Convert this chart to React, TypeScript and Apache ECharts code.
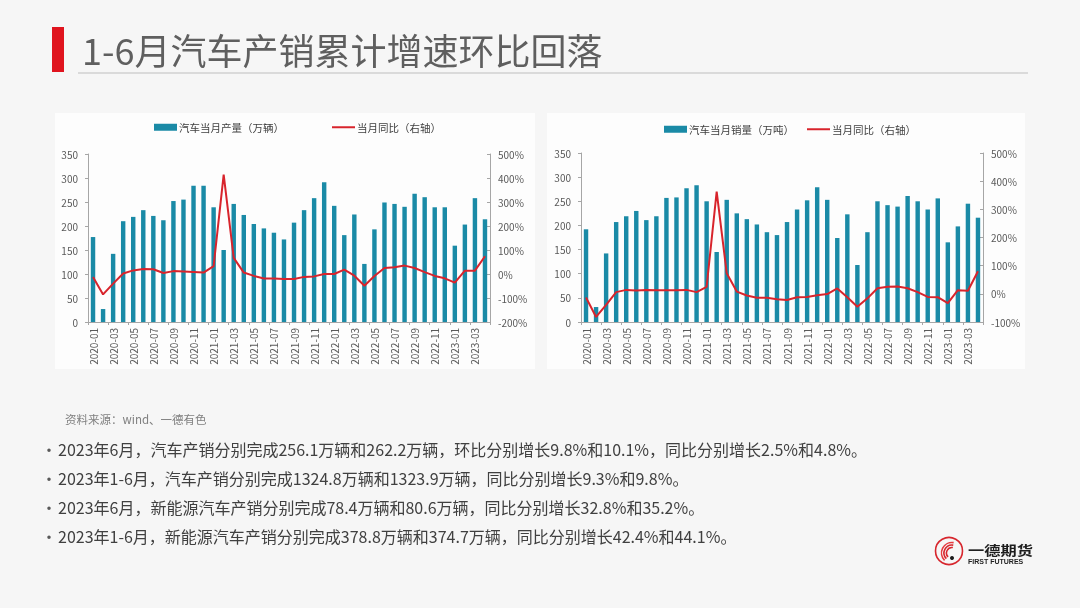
import React, { useEffect, useRef } from "react";
import * as echarts from "echarts";

// Months 2020-01 … 2023-04
const months: string[] = [
  "2020-01", "2020-02", "2020-03", "2020-04", "2020-05", "2020-06", "2020-07", "2020-08", "2020-09", "2020-10", "2020-11", "2020-12",
  "2021-01", "2021-02", "2021-03", "2021-04", "2021-05", "2021-06", "2021-07", "2021-08", "2021-09", "2021-10", "2021-11", "2021-12",
  "2022-01", "2022-02", "2022-03", "2022-04", "2022-05", "2022-06", "2022-07", "2022-08", "2022-09", "2022-10", "2022-11", "2022-12",
  "2023-01", "2023-02", "2023-03", "2023-04",
];

// Monthly vehicle output (10k units)
const production: number[] = [
  177, 27, 142, 210, 219, 233, 221, 212, 252, 255, 284, 284,
  239, 150, 246, 223, 204, 195, 186, 172, 207, 233, 258, 291,
  242, 181, 224, 121, 193, 249, 246, 240, 267, 260, 239, 239,
  159, 203, 258, 214,
];

// Year-on-year change of output (%)
const productionYoY: number[] = [
  -12, -85, -40, 2, 15, 21, 20, 4, 12, 10, 8, 6,
  33, 414, 67, 6, -8, -19, -19, -21, -21, -12, -10, 0,
  0, 18, -7, -49, -8, 25, 28, 35, 25, 8, -8, -18,
  -36, 14, 14, 74,
];

// Monthly vehicle sales
const sales: number[] = [
  192, 31, 142, 207, 219, 230, 211, 219, 257, 258, 277, 283,
  250, 145, 253, 225, 213, 202, 186, 180, 207, 233, 252, 279,
  253, 174, 223, 118, 186, 250, 242, 239, 261, 250, 233, 256,
  165, 198, 245, 216,
];

// Year-on-year change of sales (%)
const salesYoY: number[] = [
  -13, -82, -39, 6, 14, 12, 14, 13, 13, 13, 14, 6,
  25, 363, 73, 8, -6, -14, -14, -19, -22, -12, -11, -5,
  -1, 19, -12, -46, -16, 20, 25, 26, 20, 6, -11, -12,
  -33, 13, 11, 80,
];

const leftTicks1 = { min: 0, max: 350, interval: 50 };
const rightTicks1 = { min: -200, max: 500, interval: 100 };
const leftTicks2 = { min: 0, max: 350, interval: 50 };
const rightTicks2 = { min: -100, max: 500, interval: 100 };

const prodName = "汽车当月产量（万辆）";
const salesName = "汽车当月销量（万吨）";
const yoyName = "当月同比（右轴）";

const pageTitle = "1-6月汽车产销累计增速环比回落";
const sourceNote = "资料来源：wind、一德有色";
const bullets: string[] = [
  "2023年6月，汽车产销分别完成256.1万辆和262.2万辆，环比分别增长9.8%和10.1%，同比分别增长2.5%和4.8%。",
  "2023年1-6月，汽车产销分别完成1324.8万辆和1323.9万辆，同比分别增长9.3%和9.8%。",
  "2023年6月，新能源汽车产销分别完成78.4万辆和80.6万辆，同比分别增长32.8%和35.2%。",
  "2023年1-6月，新能源汽车产销分别完成378.8万辆和374.7万辆，同比分别增长42.4%和44.1%。",
];

const FONT = "'Noto Sans CJK SC', 'Noto Sans', sans-serif";
const BAR = "#1a8aa6";
const RED = "#d8242c";
const AXIS = "#a6a6a6";
const LABEL = "#595959";

function xAxisCfg(gridIndex: number) {
  return {
    type: "category",
    gridIndex,
    data: months,
    boundaryGap: true,
    axisLine: { show: true, lineStyle: { color: AXIS, width: 1 } },
    axisTick: { show: true, interval: 1, length: 3, lineStyle: { color: AXIS } },
    axisLabel: { interval: 1, rotate: 90, fontSize: 10, color: LABEL, margin: 6, fontFamily: FONT },
  };
}

function yAxisCfg(gridIndex: number, t: { min: number; max: number; interval: number }, right: boolean) {
  return {
    type: "value",
    gridIndex,
    position: right ? "right" : "left",
    min: t.min,
    max: t.max,
    interval: t.interval,
    splitLine: { show: false },
    axisLine: { show: true, lineStyle: { color: AXIS, width: 1 } },
    axisTick: { show: true, length: 3, inside: right, lineStyle: { color: AXIS } },
    axisLabel: {
      fontSize: 10,
      color: LABEL,
      margin: right ? 8 : 10,
      fontFamily: FONT,
      formatter: right ? "{value}%" : "{value}",
    },
  };
}

// One legend entry per component so each can be placed on its own
function legendCfg(name: string, left: number, top: number, isBar: boolean) {
  return {
    show: true,
    left,
    top,
    padding: 0,
    itemWidth: 23,
    itemHeight: isBar ? 7 : 2,
    itemGap: 0,
    selectedMode: false,
    textStyle: { fontSize: 10.5, color: "#404040", fontFamily: FONT, padding: [0, 0, 0, -3] },
    data: [{ name, icon: "rect", itemStyle: { color: isBar ? BAR : RED } }],
  };
}

function Logo(): any[] {
  const cx = 949;
  const cy = 551;
  const elems: any[] = [
    { type: "circle", shape: { cx, cy, r: 13.5 }, style: { fill: "none", stroke: "#d7262d", lineWidth: 1.6 } },
  ];
  // striped sail of the emblem
  const arcs = [10.5, 8, 5.5];
  arcs.forEach((r, i) => {
    elems.push({
      type: "arc",
      shape: { cx: cx + 3, cy: cy + 2, r, startAngle: Math.PI * 0.75, endAngle: Math.PI * 1.55 },
      style: { stroke: i === 0 ? "#e53a3f" : "#d7262d", lineWidth: 1.6, fill: "none" },
    });
  });
  elems.push({ type: "circle", shape: { cx: cx + 3, cy: cy + 7, r: 2 }, style: { fill: "#1a1a1a" } });
  elems.push({
    type: "text",
    x: 968,
    y: 549,
    scaleX: 1.25,
    style: { text: "一德期货", fontSize: 13, fontWeight: "bold", fill: "#1e1e1e", fontFamily: FONT, verticalAlign: "middle", align: "left" },
  });
  elems.push({
    type: "text",
    x: 968,
    y: 561,
    style: { text: "FIRST FUTURES", fontSize: 7, fontWeight: "bold", fill: "#1e1e1e", fontFamily: "'Liberation Sans', sans-serif", verticalAlign: "middle", align: "left" },
  });
  return elems;
}

export default function App() {
  const ref = useRef<HTMLDivElement>(null);

  useEffect(() => {
    if (!ref.current) return;
    const chart = echarts.init(ref.current, undefined, { renderer: "svg" });

    const graphics: any[] = [
      { type: "rect", shape: { x: 0, y: 0, width: 1080, height: 608 }, style: { fill: "#f6f6f6" }, z: -10 },
      { type: "rect", shape: { x: 55, y: 113, width: 480, height: 256 }, style: { fill: "#fdfdfd" }, z: -9 },
      { type: "rect", shape: { x: 547, y: 113, width: 478, height: 256 }, style: { fill: "#fdfdfd" }, z: -9 },
      { type: "rect", shape: { x: 52, y: 27, width: 12, height: 45 }, style: { fill: "#e0141e" } },
      { type: "rect", shape: { x: 78, y: 72, width: 950, height: 2 }, style: { fill: "#dadada" } },
      {
        type: "text",
        x: 82,
        y: 49,
        style: { text: pageTitle, fontSize: 36, fill: "#5f5f5f", fontFamily: FONT, verticalAlign: "middle", align: "left" },
      },
      {
        type: "text",
        x: 65,
        y: 419,
        style: { text: sourceNote, fontSize: 11.5, fill: "#808080", fontFamily: FONT, verticalAlign: "middle", align: "left" },
      },
      ...bullets.flatMap((b, i) => {
        const y = 449 + i * 29;
        return [
          { type: "text", x: 41, y, style: { text: "•", fontSize: 16, fill: "#595959", fontFamily: FONT, verticalAlign: "middle" } },
          { type: "text", x: 58, y, style: { text: b, fontSize: 16, fill: "#404040", fontFamily: FONT, verticalAlign: "middle", align: "left" } },
        ];
      }),
      ...Logo(),
    ];

    chart.setOption({
      animation: false,
      backgroundColor: "transparent",
      textStyle: { fontFamily: FONT },
      graphic: graphics,
      legend: [
        legendCfg(prodName, 154, 122, true),
        legendCfg(yoyName, 332, 122, false),
        legendCfg(salesName, 664, 124, true),
        legendCfg(yoyName, 807, 124, false),
      ],
      grid: [
        { left: 88, right: 590, top: 154, bottom: 286, containLabel: false },
        { left: 581, right: 97, top: 153, bottom: 286, containLabel: false },
      ],
      xAxis: [xAxisCfg(0), xAxisCfg(1)],
      yAxis: [
        yAxisCfg(0, leftTicks1, false),
        yAxisCfg(0, rightTicks1, true),
        yAxisCfg(1, leftTicks2, false),
        yAxisCfg(1, rightTicks2, true),
      ],
      series: [
        {
          name: prodName,
          type: "bar",
          xAxisIndex: 0,
          yAxisIndex: 0,
          data: production,
          barWidth: "44%",
          itemStyle: { color: BAR },
        },
        {
          name: yoyName,
          type: "line",
          xAxisIndex: 0,
          yAxisIndex: 1,
          data: productionYoY,
          symbol: "none",
          lineStyle: { color: RED, width: 2 },
          itemStyle: { color: RED },
        },
        {
          name: salesName,
          type: "bar",
          xAxisIndex: 1,
          yAxisIndex: 2,
          data: sales,
          barWidth: "44%",
          itemStyle: { color: BAR },
        },
        {
          name: yoyName,
          type: "line",
          xAxisIndex: 1,
          yAxisIndex: 3,
          data: salesYoY,
          symbol: "none",
          lineStyle: { color: RED, width: 2 },
          itemStyle: { color: RED },
        },
      ],
    });

    return () => chart.dispose();
  }, []);

  return (
    <div
      ref={ref}
      style={{ position: "fixed", left: 0, top: 0, width: 1080, height: 608 }}
    />
  );
}
